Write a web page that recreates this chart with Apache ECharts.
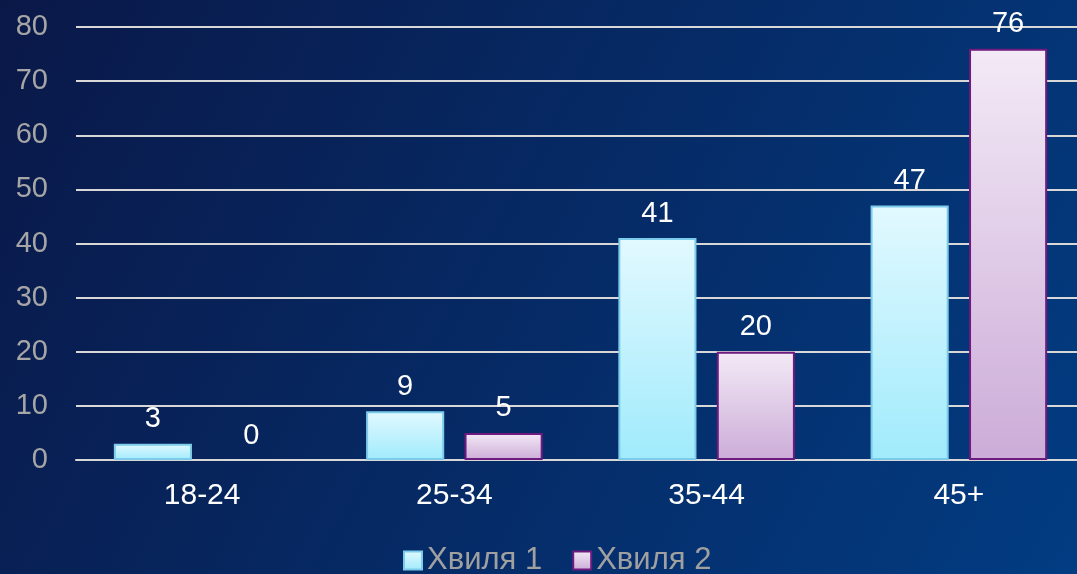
<!DOCTYPE html>
<html><head><meta charset="utf-8">
<script src="https://cdn.jsdelivr.net/npm/echarts@6/dist/echarts.min.js"></script>
<style>html,body{margin:0;padding:0;width:1077px;height:574px;overflow:hidden;}#c{width:1077px;height:574px;}</style>
</head><body><div id="c"></div>
<script>
const categories = ['18-24', '25-34', '35-44', '45+'];
const wave1 = [3, 9, 41, 47];
const wave2 = [0, 5, 20, 76];
const seriesNames = ['Хвиля 1', 'Хвиля 2'];
const yTicks = {min: 0, max: 80, interval: 10};

const chart = echarts.init(document.getElementById('c'));
const FONT = 'Liberation Sans, Arial, sans-serif';
const lbl = {show: true, position: 'top', distance: 10, color: '#ffffff', fontSize: 29, fontFamily: FONT};
const hideZero = arr => arr.map(v => v === 0 ? {value: v, itemStyle: {borderWidth: 0}} : v);
chart.setOption({
  backgroundColor: {type: 'linear', x: 0, y: 0, x2: 1, y2: 1, colorStops: [
    {offset: 0, color: '#0a1848'}, {offset: 1, color: '#023c82'}]},
  textStyle: {fontFamily: FONT},
  grid: {left: 76, right: -8, top: 27, bottom: 114, containLabel: false, outerBoundsMode: 'none'},
  legend: {
    data: seriesNames, top: 540, left: 398, itemWidth: 18, itemHeight: 18, itemGap: 30,
    icon: 'rect',
    textStyle: {color: '#a0a0a0', fontSize: 31, padding: [0, 0, 0, 0]}
  },
  xAxis: {
    type: 'category', data: categories,
    axisLine: {lineStyle: {color: '#d8d8d8', width: 2}},
    axisTick: {show: false},
    axisLabel: {color: '#ffffff', fontSize: 30, margin: 21}
  },
  yAxis: {
    type: 'value', min: yTicks.min, max: yTicks.max, interval: yTicks.interval,
    axisLine: {show: false}, axisTick: {show: false},
    axisLabel: {color: '#a6a6a6', fontSize: 29, margin: 28},
    splitLine: {lineStyle: {color: '#d8d8d8', width: 2}}
  },
  series: [
    {
      name: seriesNames[0], type: 'bar', data: hideZero(wave1), barGap: '26%', barCategoryGap: '30%',
      itemStyle: {
        color: {type: 'linear', x: 0, y: 0, x2: 0, y2: 1, colorStops: [
          {offset: 0, color: '#e2f9ff'}, {offset: 1, color: '#a0ebfc'}]},
        borderColor: '#7ccbea', borderWidth: 2
      },
      label: lbl
    },
    {
      name: seriesNames[1], type: 'bar', data: hideZero(wave2),
      itemStyle: {
        color: {type: 'linear', x: 0, y: 0, x2: 0, y2: 1, colorStops: [
          {offset: 0, color: '#f3eaf6'}, {offset: 1, color: '#ccacd8'}]},
        borderColor: '#6e1a7e', borderWidth: 2
      },
      label: lbl
    }
  ]
});
</script></body></html>
